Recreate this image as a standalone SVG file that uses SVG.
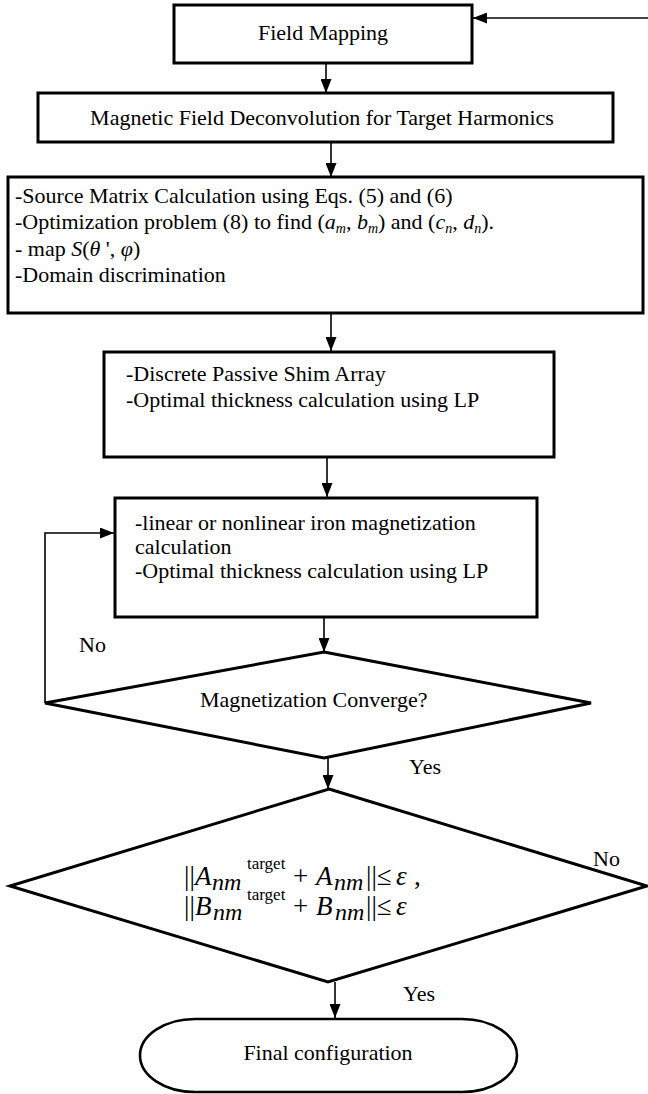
<svg xmlns="http://www.w3.org/2000/svg" width="648" height="1094" viewBox="0 0 648 1094">
<style>
.box{fill:#fff;stroke:#000;stroke-width:3}
.conn{fill:none;stroke:#000;stroke-width:1.6}
text{font-family:"Liberation Serif","Times New Roman",serif;font-size:22px;fill:#000}
.c{text-anchor:middle}
.i{font-style:italic}
.m{font-size:27px}
.sb{font-size:24px;font-style:italic}
.sp{font-size:17px}
</style>
<defs>
<marker id="ah" markerUnits="userSpaceOnUse" markerWidth="14" markerHeight="11" refX="14" refY="5.5" orient="auto">
<path d="M0,0 L14,5.5 L0,11 z" fill="#000"/>
</marker>
</defs>
<rect width="648" height="1094" fill="#fff"/>
<g id="connectors">
<path class="conn" d="M326,63 V93" marker-end="url(#ah)"/>
<path class="conn" d="M331,142 V177" marker-end="url(#ah)"/>
<path class="conn" d="M331,313 V351" marker-end="url(#ah)"/>
<path class="conn" d="M327,457 V497" marker-end="url(#ah)"/>
<path class="conn" d="M324,617 V652" marker-end="url(#ah)"/>
<path class="conn" d="M328,758 V789" marker-end="url(#ah)"/>
<path class="conn" d="M335,982 V1018" marker-end="url(#ah)"/>
<path class="conn" d="M648,18 H473" marker-end="url(#ah)"/>
<path class="conn" d="M45,703 V533 H114" marker-end="url(#ah)"/>
</g>
<g id="field-mapping">
<rect class="box" x="174" y="5" width="298" height="58"/>
<text class="c" x="323" y="40">Field Mapping</text>
</g>
<g id="deconvolution">
<rect class="box" x="38" y="93" width="575" height="49"/>
<text class="c" x="322" y="125">Magnetic Field Deconvolution for Target Harmonics</text>
</g>
<g id="source-matrix">
<rect class="box" x="8" y="177" width="635" height="136"/>
<text x="15" y="203">-Source Matrix Calculation using Eqs. (5) and (6)</text>
<text x="15" y="229">-Optimization problem (8) to find (<tspan class="i">a</tspan><tspan class="i" font-size="14" dy="4">m</tspan><tspan dy="-4">, </tspan><tspan class="i">b</tspan><tspan class="i" font-size="14" dy="4">m</tspan><tspan dy="-4">) and (</tspan><tspan class="i">c</tspan><tspan class="i" font-size="14" dy="4">n</tspan><tspan dy="-4">, </tspan><tspan class="i">d</tspan><tspan class="i" font-size="14" dy="4">n</tspan><tspan dy="-4">).</tspan></text>
<text x="15" y="256">- map <tspan class="i">S</tspan>(<tspan class="i">θ</tspan> ', <tspan class="i">φ</tspan>)</text>
<text x="15" y="282">-Domain discrimination</text>
</g>
<g id="shim-array">
<rect class="box" x="104" y="352" width="450" height="105"/>
<text x="126" y="381">-Discrete Passive Shim Array</text>
<text x="126" y="407">-Optimal thickness calculation using LP</text>
</g>
<g id="iron-magnetization">
<rect class="box" x="115" y="498" width="422" height="119"/>
<text x="135" y="530">-linear or nonlinear iron magnetization</text>
<text x="135" y="554">calculation</text>
<text x="135" y="578">-Optimal thickness calculation using LP</text>
</g>
<g id="converge">
<polygon class="box" points="324,652 591,703 324,758 45,703"/>
<text x="200" y="707">Magnetization Converge?</text>
</g>
<g id="harmonics-check">
<polygon class="box" points="329,789 647,886 328,982 10,886"/>
<text class="m"><tspan x="184" y="885">||</tspan><tspan class="i" x="195" y="885">A</tspan><tspan class="sb" x="212" y="890">nm</tspan><tspan class="sp" x="247" y="869">target</tspan><tspan x="293" y="885">+</tspan><tspan class="i" x="316" y="885">A</tspan><tspan class="sb" x="334" y="890">nm</tspan><tspan x="366" y="885">||≤</tspan><tspan class="i" x="396" y="885">ε</tspan><tspan x="414" y="885">,</tspan></text>
<text class="m"><tspan x="184" y="915">||</tspan><tspan class="i" x="195" y="915">B</tspan><tspan class="sb" x="213" y="920">nm</tspan><tspan class="sp" x="247" y="900">target</tspan><tspan x="293" y="915">+</tspan><tspan class="i" x="316" y="915">B</tspan><tspan class="sb" x="335" y="920">nm</tspan><tspan x="366" y="915">||≤</tspan><tspan class="i" x="396" y="915">ε</tspan></text>
</g>
<g id="final">
<rect class="box" x="140" y="1019" width="377" height="73" rx="55" ry="36.5" style="stroke-width:2.6"/>
<text class="c" x="328" y="1060">Final configuration</text>
</g>
<g id="labels">
<text x="79" y="652">No</text>
<text x="409" y="774">Yes</text>
<text x="593" y="866">No</text>
<text x="403" y="1001">Yes</text>
</g>
</svg>
